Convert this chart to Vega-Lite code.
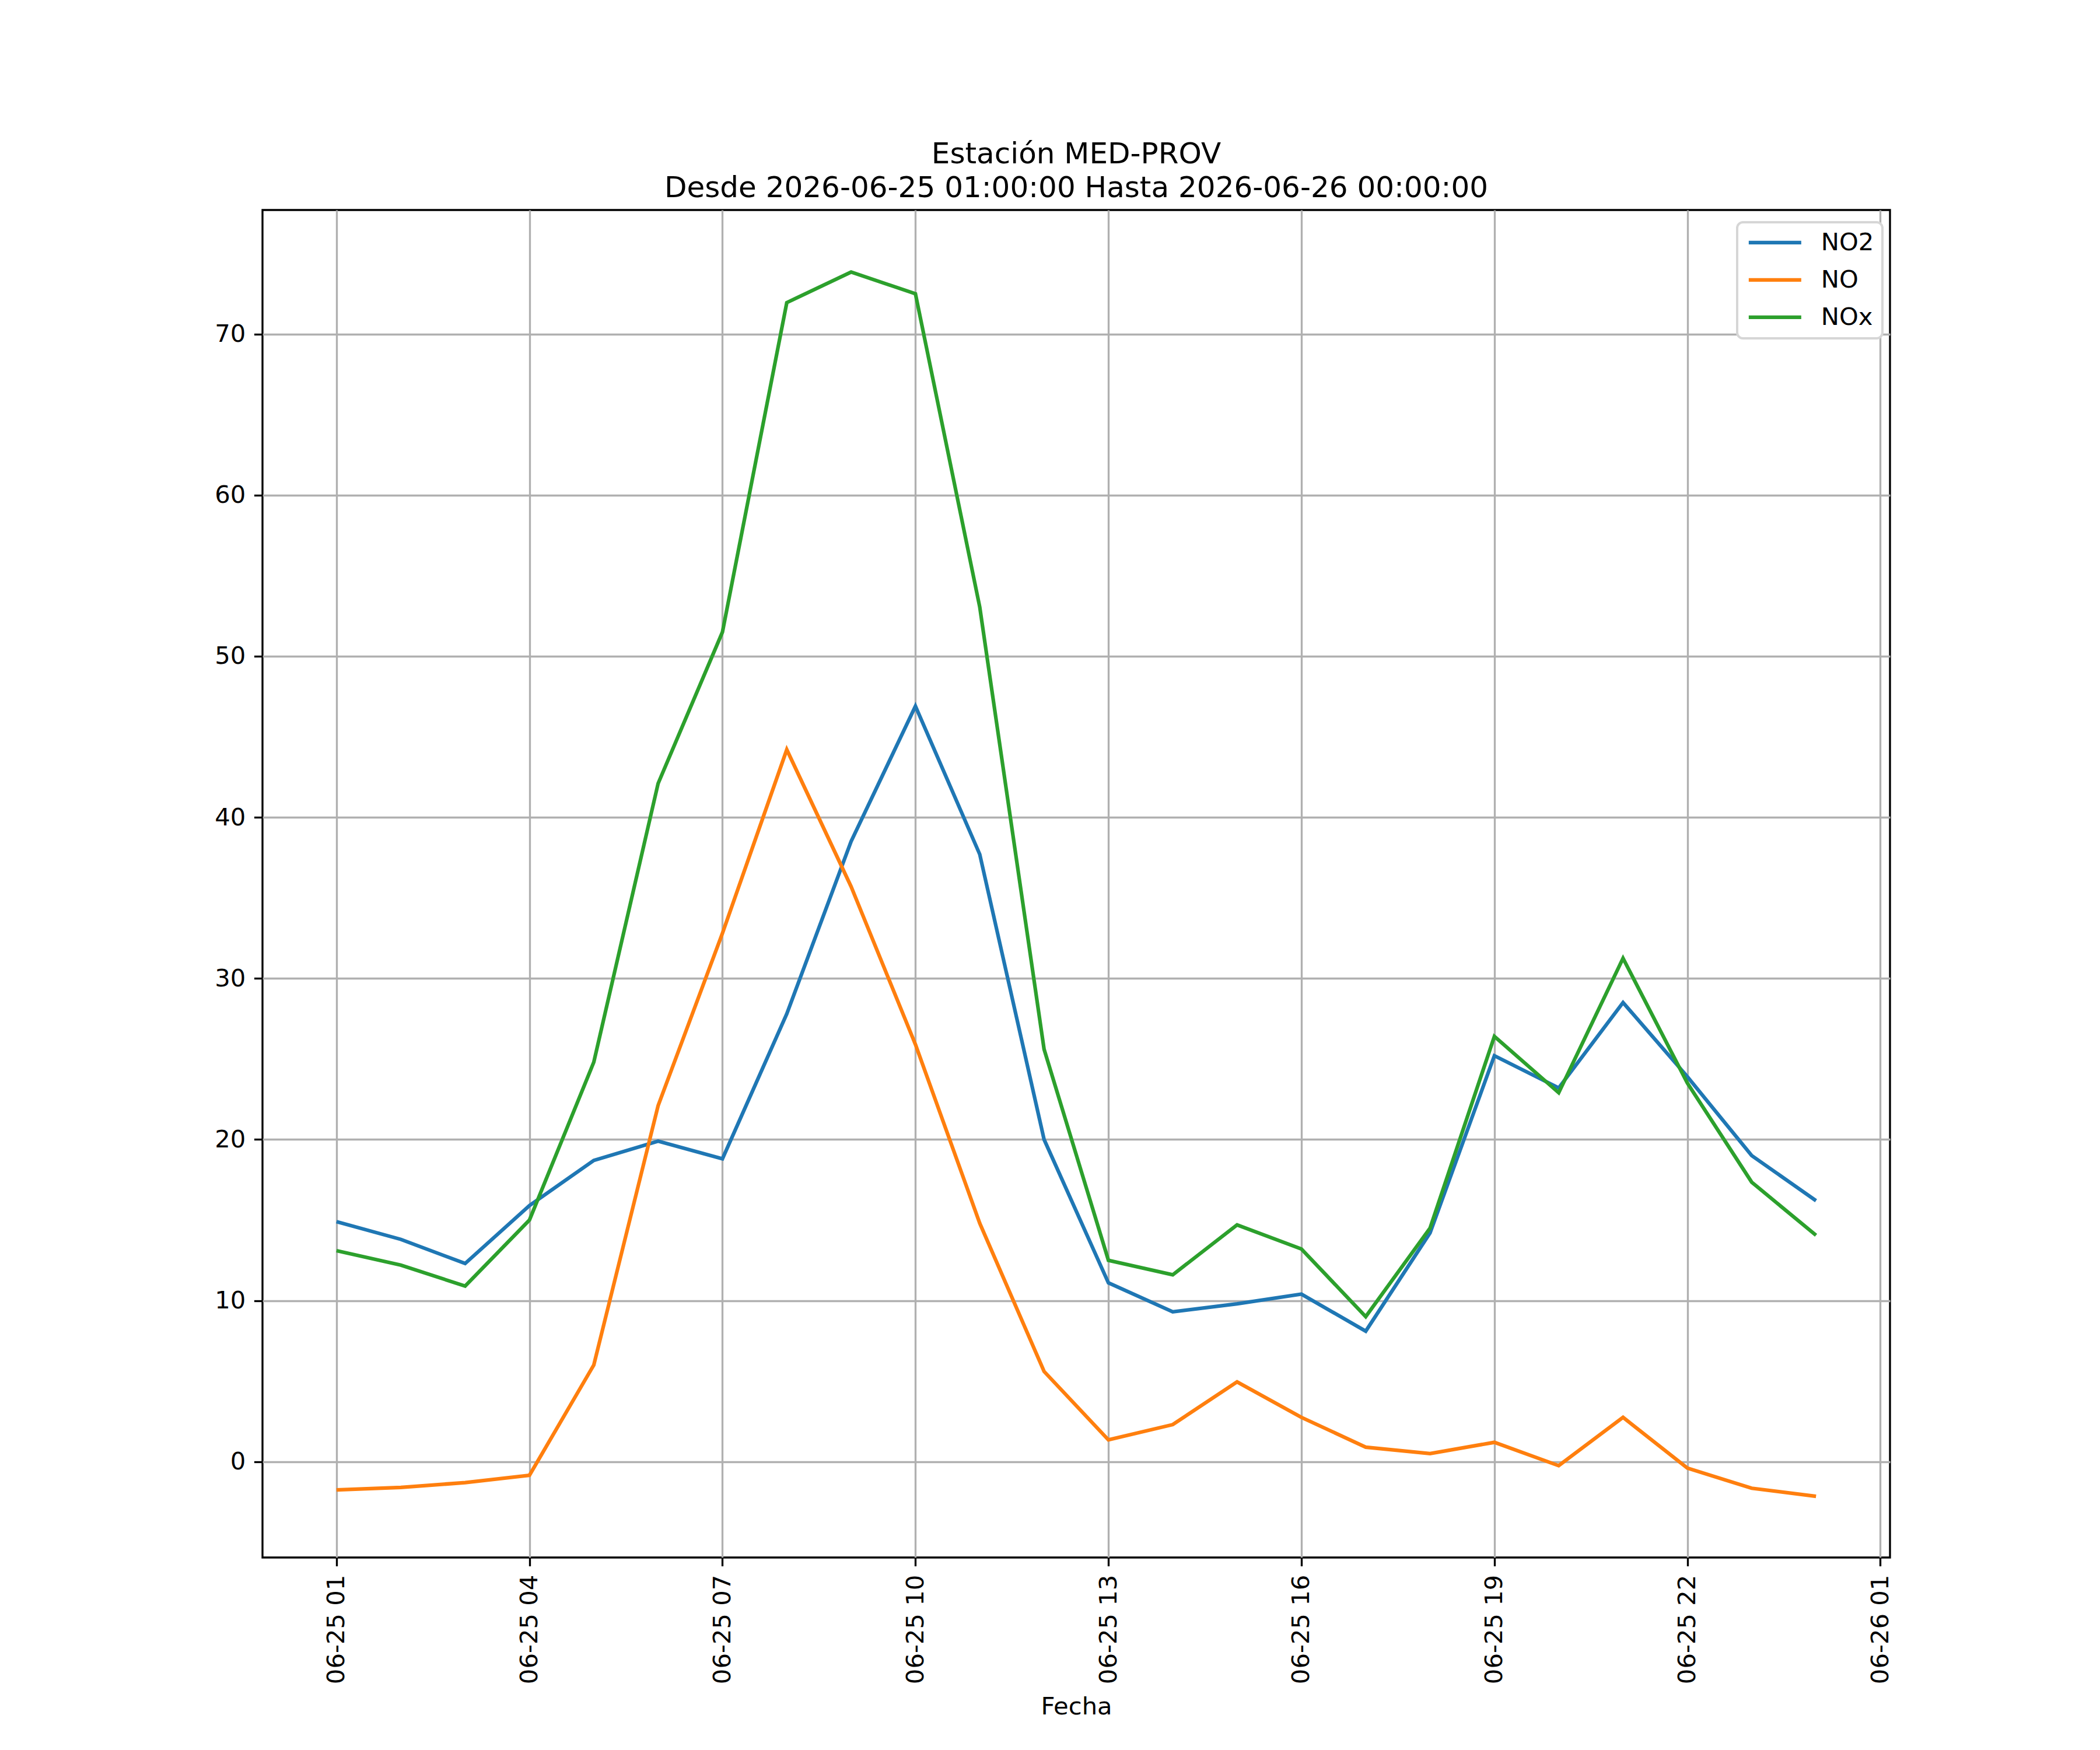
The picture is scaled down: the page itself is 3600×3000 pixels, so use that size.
{
  "$schema": "https://vega.github.io/schema/vega-lite/v6.json",
  "description": "NO2, NO and NOx at station MED-PROV, hourly.",
  "autosize": {"type": "none"},
  "width": 2790,
  "height": 2310,
  "padding": {"left": 450, "top": 360, "right": 360, "bottom": 330},
  "background": "white",
  "title": {
    "text": ["Estación MED-PROV", "Desde 2026-06-25 01:00:00 Hasta 2026-06-26 00:00:00"],
    "font": "DejaVu Sans",
    "fontSize": 50,
    "fontWeight": "normal",
    "color": "black",
    "anchor": "middle",
    "lineHeight": 58,
    "baseline": "alphabetic",
    "offset": -28
  },
  "config": {
    "view": {"stroke": "black", "strokeWidth": 3.33},
    "axis": {
      "labelFont": "DejaVu Sans",
      "labelFontSize": 41.7,
      "labelColor": "black",
      "labelLimit": 0,
      "titleFont": "DejaVu Sans",
      "titleFontSize": 41.7,
      "titleFontWeight": "normal",
      "titleColor": "black",
      "domain": false,
      "grid": true,
      "gridColor": "#b0b0b0",
      "gridWidth": 3.33,
      "gridOpacity": 1,
      "ticks": true,
      "tickColor": "black",
      "tickWidth": 3.33,
      "tickSize": 14.6,
      "labelPadding": 14.6
    },
    "legend": {
      "labelFont": "DejaVu Sans",
      "labelFontSize": 41.7,
      "labelColor": "black"
    }
  },
  "data": {
    "values": [
      {"fecha": "2026-06-25T01:00:00Z", "NO2": 14.9, "NO": -1.75, "NOx": 13.1},
      {"fecha": "2026-06-25T02:00:00Z", "NO2": 13.8, "NO": -1.6, "NOx": 12.2},
      {"fecha": "2026-06-25T03:00:00Z", "NO2": 12.3, "NO": -1.3, "NOx": 10.9},
      {"fecha": "2026-06-25T04:00:00Z", "NO2": 15.9, "NO": -0.85, "NOx": 15.0},
      {"fecha": "2026-06-25T05:00:00Z", "NO2": 18.7, "NO": 6.0, "NOx": 24.8},
      {"fecha": "2026-06-25T06:00:00Z", "NO2": 19.9, "NO": 22.1, "NOx": 42.1},
      {"fecha": "2026-06-25T07:00:00Z", "NO2": 18.8, "NO": 32.8, "NOx": 51.5},
      {"fecha": "2026-06-25T08:00:00Z", "NO2": 27.8, "NO": 44.2, "NOx": 71.95},
      {"fecha": "2026-06-25T09:00:00Z", "NO2": 38.5, "NO": 35.7, "NOx": 73.85},
      {"fecha": "2026-06-25T10:00:00Z", "NO2": 46.9, "NO": 25.9, "NOx": 72.5},
      {"fecha": "2026-06-25T11:00:00Z", "NO2": 37.7, "NO": 14.8, "NOx": 53.05},
      {"fecha": "2026-06-25T12:00:00Z", "NO2": 20.0, "NO": 5.6, "NOx": 25.6},
      {"fecha": "2026-06-25T13:00:00Z", "NO2": 11.1, "NO": 1.35, "NOx": 12.5},
      {"fecha": "2026-06-25T14:00:00Z", "NO2": 9.3, "NO": 2.3, "NOx": 11.6},
      {"fecha": "2026-06-25T15:00:00Z", "NO2": 9.8, "NO": 4.95, "NOx": 14.7},
      {"fecha": "2026-06-25T16:00:00Z", "NO2": 10.4, "NO": 2.75, "NOx": 13.2},
      {"fecha": "2026-06-25T17:00:00Z", "NO2": 8.1, "NO": 0.9, "NOx": 9.0},
      {"fecha": "2026-06-25T18:00:00Z", "NO2": 14.2, "NO": 0.5, "NOx": 14.5},
      {"fecha": "2026-06-25T19:00:00Z", "NO2": 25.2, "NO": 1.2, "NOx": 26.4},
      {"fecha": "2026-06-25T20:00:00Z", "NO2": 23.2, "NO": -0.25, "NOx": 22.9},
      {"fecha": "2026-06-25T21:00:00Z", "NO2": 28.5, "NO": 2.75, "NOx": 31.25},
      {"fecha": "2026-06-25T22:00:00Z", "NO2": 23.9, "NO": -0.4, "NOx": 23.5},
      {"fecha": "2026-06-25T23:00:00Z", "NO2": 19.0, "NO": -1.65, "NOx": 17.35},
      {"fecha": "2026-06-26T00:00:00Z", "NO2": 16.2, "NO": -2.15, "NOx": 14.05}
    ]
  },
  "transform": [
    {"fold": ["NO2", "NO", "NOx"], "as": ["serie", "valor"]}
  ],
  "mark": {"type": "line", "strokeWidth": 6.25, "clip": true},
  "encoding": {
    "x": {
      "field": "fecha",
      "type": "temporal",
      "title": "Fecha",
      "scale": {
        "type": "utc",
        "domain": [
          {"year": 2026, "month": 6, "date": 24, "hours": 23, "minutes": 51, "utc": true},
          {"year": 2026, "month": 6, "date": 26, "hours": 1, "minutes": 9, "utc": true}
        ]
      },
      "axis": {
        "values": [
          {"year": 2026, "month": 6, "date": 25, "hours": 1, "utc": true},
          {"year": 2026, "month": 6, "date": 25, "hours": 4, "utc": true},
          {"year": 2026, "month": 6, "date": 25, "hours": 7, "utc": true},
          {"year": 2026, "month": 6, "date": 25, "hours": 10, "utc": true},
          {"year": 2026, "month": 6, "date": 25, "hours": 13, "utc": true},
          {"year": 2026, "month": 6, "date": 25, "hours": 16, "utc": true},
          {"year": 2026, "month": 6, "date": 25, "hours": 19, "utc": true},
          {"year": 2026, "month": 6, "date": 25, "hours": 22, "utc": true},
          {"year": 2026, "month": 6, "date": 26, "hours": 1, "utc": true}
        ],
        "format": "%m-%d %H",
        "labelAngle": 270,
        "labelAlign": "right",
        "labelBaseline": "middle",
        "labelFlush": false,
        "labelOverlap": false,
        "titlePadding": 35
      }
    },
    "y": {
      "field": "valor",
      "type": "quantitative",
      "title": null,
      "scale": {"domain": [-5.95, 77.7], "nice": false, "zero": false},
      "axis": {"values": [0, 10, 20, 30, 40, 50, 60, 70]}
    },
    "color": {
      "field": "serie",
      "type": "nominal",
      "title": null,
      "sort": ["NO2", "NO", "NOx"],
      "scale": {"domain": ["NO2", "NO", "NOx"], "range": ["#1f77b4", "#ff7f0e", "#2ca02c"]},
      "legend": {
        "orient": "none",
        "legendX": 2528,
        "legendY": 21,
        "symbolType": "M-3,0H3",
        "symbolSize": 900,
        "symbolStrokeWidth": 6.25,
        "symbolOffset": 30,
        "labelOffset": 58,
        "rowPadding": 21,
        "padding": 14,
        "fillColor": "white",
        "strokeColor": "#d6d6d6",
        "cornerRadius": 10,
        "encode": {"legend": {"update": {"strokeWidth": {"value": 4}}}}
      }
    }
  }
}
